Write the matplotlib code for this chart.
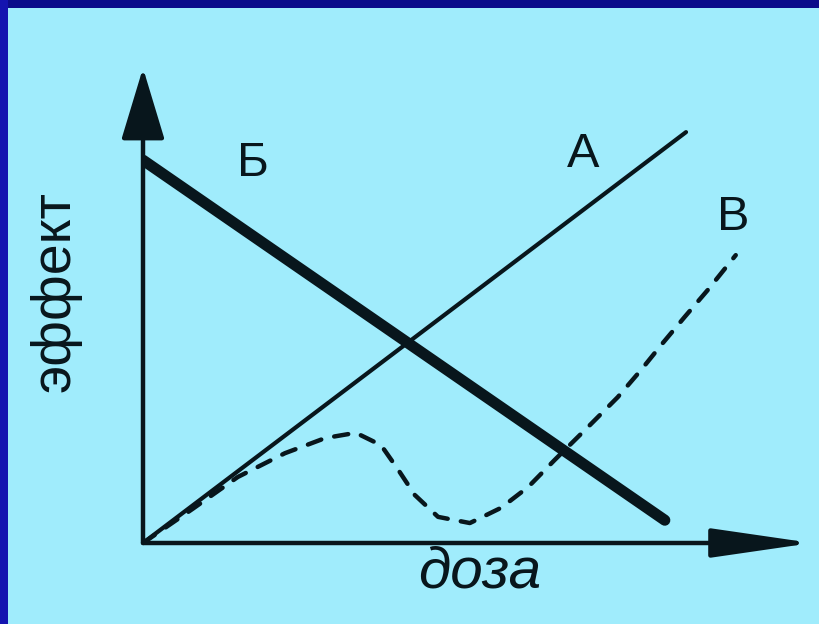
import matplotlib
matplotlib.use("Agg")
import matplotlib.pyplot as plt
from matplotlib import font_manager
from matplotlib.patches import Rectangle

# line A: effect grows with dose
dose_a = [0.0, 8.19]
effect_a = [0.0, 8.65]
# line Б: effect falls with dose
dose_b = [0.0, 7.87]
effect_b = [8.06, 0.48]
# curve В: rise, dip, rise again
dose_v = [0.0, 0.75, 1.43, 2.14, 2.75, 3.21, 3.59, 3.85, 4.10, 4.45, 4.93,
          5.40, 5.81, 6.21, 6.71, 7.16, 7.51, 7.84, 8.17, 8.52, 8.94]
effect_v = [0.0, 0.72, 1.39, 1.89, 2.21, 2.32, 2.06, 1.54, 1.01, 0.55, 0.42,
            0.74, 1.18, 1.75, 2.44, 3.07, 3.64, 4.21, 4.76, 5.33, 6.06]

curve_labels = ["Б", "А", "В"]
label_pos = [(1.66, 8.0), (6.64, 8.17), (8.90, 6.86)]

BG = "#a0ecfc"
INK = "#08161c"

def pick_font(names):
    for n in names:
        try:
            font_manager.findfont(n, fallback_to_default=False)
            return n
        except Exception:
            pass
    return "DejaVu Sans"

sans = pick_font(["Liberation Sans", "Arial", "DejaVu Sans"])
narrow = pick_font(["Liberation Sans Narrow", "DejaVu Sans Condensed", sans])

W, H = 819, 624
fig = plt.figure(figsize=(W / 100, H / 100), dpi=100)
fig.patch.set_facecolor(BG)
# dark blue frame on top and left
fig.add_artist(Rectangle((0, 1 - 8 / H), 1, 8 / H, transform=fig.transFigure,
                         facecolor="#0c0c8a", edgecolor="none", zorder=0))
fig.add_artist(Rectangle((0, 0), 8 / W, 1, transform=fig.transFigure,
                         facecolor="#1414b0", edgecolor="none", zorder=0))

ax = fig.add_axes([143 / W, 81 / H, (812 - 143) / W, (543 - 68) / H])
ax.set_facecolor("none")
ax.set_xlim(0, 10.09)
ax.set_ylim(0, 10)
for s in ax.spines.values():
    s.set_visible(False)
ax.set_xticks([])
ax.set_yticks([])

# axes with arrow heads
ax.annotate("", xy=(1, 0), xytext=(0, 0), xycoords="axes fraction",
            arrowprops=dict(arrowstyle="-|>,head_length=3.1,head_width=0.45",
                            mutation_scale=20, lw=3.2, color=INK,
                            shrinkA=0, shrinkB=0))
ax.annotate("", xy=(0, 1), xytext=(0, 0), xycoords="axes fraction",
            arrowprops=dict(arrowstyle="-|>,head_length=2.25,head_width=0.68",
                            mutation_scale=20, lw=3.2, color=INK,
                            shrinkA=0, shrinkB=0))

ax.plot(dose_a, effect_a, color=INK, lw=3.0, solid_capstyle="round")
ax.plot(dose_b, effect_b, color=INK, lw=8.0, solid_capstyle="round")
line_v, = ax.plot(dose_v, effect_v, color=INK, lw=3.2, dash_capstyle="round")
line_v.set_dashes((3.2, 3.0))

for lab, (x, y) in zip(curve_labels, label_pos):
    ax.text(x, y, lab, fontsize=35, family=sans, color=INK,
            ha="center", va="center")

fig.text(56 / W, 1 - 292 / H, "эффект", rotation=90, fontsize=40,
         family=narrow, color=INK, ha="center", va="center")
fig.text(480 / W, 1 - 572 / H, "доза", fontsize=42, family=sans,
         style="italic", color=INK, ha="center", va="center")

fig.savefig("out.png", dpi=100, facecolor=fig.get_facecolor())
